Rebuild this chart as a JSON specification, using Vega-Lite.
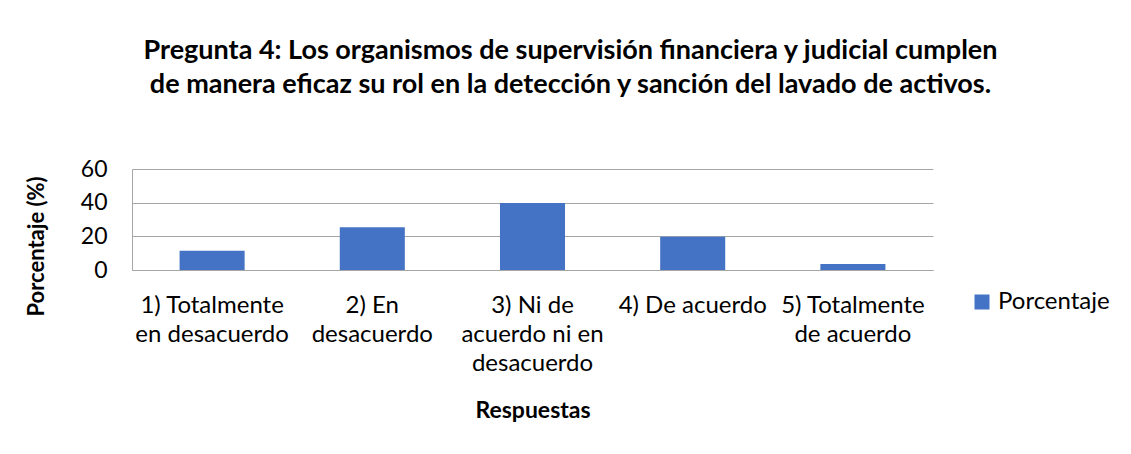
{
  "$schema": "https://vega.github.io/schema/vega-lite/v6.json",
  "autosize": {"type": "none"},
  "padding": {"left": 132, "top": 169, "right": 198, "bottom": 184},
  "width": 801,
  "height": 101,
  "background": "white",
  "title": {
    "text": ["Pregunta 4: Los organismos de supervisión financiera y judicial cumplen", "de manera eficaz su rol en la detección y sanción del lavado de activos."],
    "font": "Lato",
    "fontSize": 27,
    "fontWeight": "bold",
    "color": "#000000",
    "anchor": "middle",
    "lineHeight": 34,
    "dx": 38,
    "offset": 59
  },
  "data": {
    "values": [
      {"respuesta": "1) Totalmente\nen desacuerdo", "porcentaje": 11.4, "serie": "Porcentaje"},
      {"respuesta": "2) En\ndesacuerdo", "porcentaje": 25.4, "serie": "Porcentaje"},
      {"respuesta": "3) Ni de\nacuerdo ni en\ndesacuerdo", "porcentaje": 39.8, "serie": "Porcentaje"},
      {"respuesta": "4) De acuerdo", "porcentaje": 19.8, "serie": "Porcentaje"},
      {"respuesta": "5) Totalmente\nde acuerdo", "porcentaje": 3.6, "serie": "Porcentaje"}
    ]
  },
  "mark": {"type": "bar"},
  "encoding": {
    "x": {
      "field": "respuesta",
      "type": "nominal",
      "sort": null,
      "scale": {"paddingInner": 0.594, "paddingOuter": 0.297},
      "axis": {
        "title": "Respuestas",
        "titleFont": "Lato",
        "titleFontSize": 23,
        "titleFontWeight": "bold",
        "titleColor": "#000000",
        "titleBaseline": "middle",
        "titleY": 140,
        "labelExpr": "split(datum.label, '\\n')",
        "labelFont": "Lato",
        "labelFontSize": 24,
        "labelColor": "#000000",
        "labelAngle": 0,
        "labelLineHeight": 29,
        "labelPadding": 23,
        "labelLimit": 0,
        "ticks": false,
        "domainColor": "#A6A6A6",
        "grid": false
      }
    },
    "y": {
      "field": "porcentaje",
      "type": "quantitative",
      "scale": {"domain": [0, 60]},
      "axis": {
        "title": "Porcentaje (%)",
        "titleFont": "Lato",
        "titleFontSize": 22,
        "titleFontWeight": "bold",
        "titleColor": "#000000",
        "titleAngle": -90,
        "titleBaseline": "middle",
        "titleAlign": "center",
        "titleX": -96,
        "titleY": 77,
        "values": [0, 20, 40, 60],
        "labelFont": "Lato",
        "labelFontSize": 23,
        "labelColor": "#000000",
        "labelPadding": 25,
        "ticks": false,
        "domainColor": "#A6A6A6",
        "gridColor": "#A6A6A6",
        "grid": true
      }
    },
    "color": {
      "field": "serie",
      "type": "nominal",
      "scale": {"range": ["#4472C4"]},
      "legend": {
        "title": null,
        "orient": "none",
        "legendX": 838,
        "legendY": 121,
        "symbolType": "square",
        "symbolSize": 225,
        "symbolStrokeWidth": 0,
        "labelFont": "Lato",
        "labelFontSize": 24,
        "labelColor": "#000000",
        "labelOffset": 4
      }
    }
  },
  "config": {
    "view": {"stroke": null}
  }
}
